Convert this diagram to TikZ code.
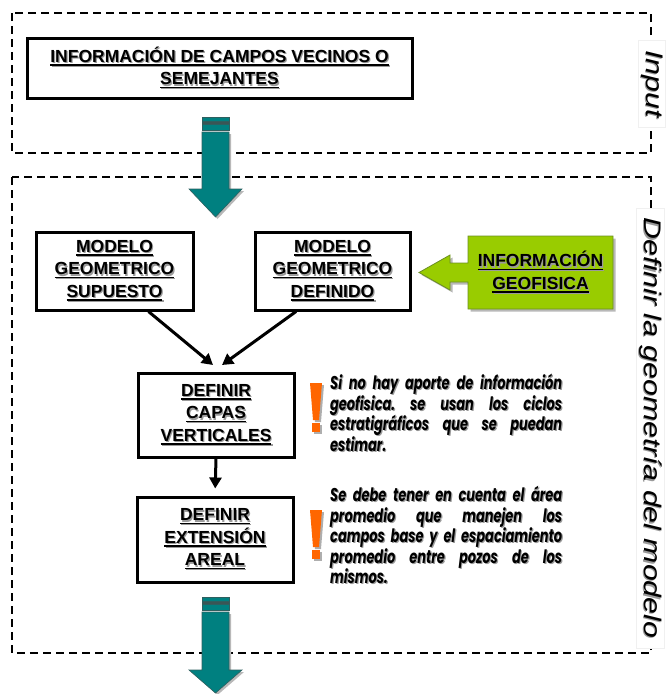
\documentclass[tikz,border=0pt]{standalone}
\usepackage{fontspec}
\setmainfont{Liberation Sans}
\newfontfamily\notefont[FakeStretch=0.70]{Poppins}
\usetikzlibrary{arrows.meta,calc}

\definecolor{tealfill}{HTML}{008080}
\definecolor{tealedge}{HTML}{2F5F5F}
\definecolor{tealband}{HTML}{3A5656}
\definecolor{leaf}{HTML}{99CC00}
\definecolor{leafedge}{HTML}{6B8E23}
\definecolor{alertorange}{HTML}{FF6600}
\definecolor{shadowgray}{HTML}{9A9A9A}

% text with a soft grey drop shadow
\newcommand\shd[1]{\leavevmode\rlap{\hspace{1.2pt}\raisebox{-1.2pt}{\color{shadowgray}#1}}#1}
% heavy underline
\newcommand\ulx[1]{\setbox0\hbox{#1}\rlap{\rule[-3.2pt]{\wd0}{1.5pt}}\box0}
% underlined, shadowed box caption line
\newcommand\bx[1]{\shd{\ulx{#1}}}

% broad teal arrow: centre x, top, start of head, tip
\newcommand\fatarrow[4]{%
  \fill[shadowgray!70] ({#1-11.5},{#2+17}) -- ({#1+15.5},{#2+17}) -- ({#1+15.5},{#3+2}) -- ({#1+28.5},{#3+2})
     -- ({#1+2},{#4+2}) -- ({#1-24.5},{#3+2}) -- ({#1-11.5},{#3+2}) -- cycle;
  \filldraw[fill=tealfill, draw=tealedge, line width=0.6pt]
     ({#1-13.5},{#2}) rectangle ({#1+13.5},{#2+4});
  \filldraw[fill=tealband, draw=tealedge, line width=0.6pt]
     ({#1-13.5},{#2+4}) rectangle ({#1+13.5},{#2+7});
  \filldraw[fill=tealfill, draw=tealedge, line width=0.6pt]
     ({#1-13.5},{#2+7}) rectangle ({#1+13.5},{#2+13});
  \filldraw[fill=tealfill, draw=tealedge, line width=0.6pt]
     ({#1-13.5},{#2+15}) -- ({#1+13.5},{#2+15}) -- ({#1+13.5},{#3}) -- ({#1+26.5},{#3})
     -- ({#1},{#4}) -- ({#1-26.5},{#3}) -- ({#1-13.5},{#3}) -- cycle;
}

\tikzset{
  warnmark/.pic={
    \fill[shadowgray!80] (2,2) -- (14,2) -- (11,39) -- (5,39) -- cycle;
    \fill[shadowgray!80] (4,42) rectangle (12,51);
    \fill[alertorange] (0,0) -- (12,0) -- (9,37) -- (3,37) -- cycle;
    \fill[alertorange] (2,40) rectangle (10,49);
  }
}

\begin{document}
\begin{tikzpicture}[x=1pt, y=-1pt,
  stage/.style={draw=black, line width=2.2pt, dash pattern=on 8pt off 5pt},
  taskbox/.style={draw=black, line width=3pt, inner sep=0pt, align=center,
    font=\fontsize{17.5}{22.5}\selectfont\bfseries},
  flow/.style={line width=3pt, -{Triangle[length=11pt,width=12pt]}},
  sidelabel/.style={rotate=-90, fill=white, draw=gray!12, inner xsep=10pt, inner ysep=2pt,
    font=\fontsize{24}{26}\selectfont\itshape},
  note/.style={text width=232pt, align=justify, inner sep=0pt, anchor=north west,
    font=\notefont\fontsize{18.5}{20.5}\selectfont\bfseries\itshape\frenchspacing}
]
\useasboundingbox (0,0) rectangle (670,694);

% stage frames
\draw[stage] (12,13) rectangle (651,153);
\draw[stage] (12,177) rectangle (651,653);

% stage names on the right edge
\node[sidelabel] (inlbl) at (652,84) {\shd{\scalebox{1.26}[1]{Input}}};
\node[sidelabel] (geolbl) at (650,428) {\shd{\scalebox{1.26}[1]{Definir la geometría del modelo}}};

% broad arrows between stages
\fatarrow{215.5}{117}{189}{217}
\fatarrow{215.5}{597}{670}{693}

% process boxes
\node[taskbox, minimum width=385pt, minimum height=60pt] (vecinos) at (219.5,68)
  {\bx{INFORMACIÓN DE CAMPOS VECINOS O}\\\bx{SEMEJANTES}};
\node[taskbox, minimum width=157pt, minimum height=78pt] (supuesto) at (114.5,271)
  {\bx{MODELO}\\\bx{GEOMETRICO}\\\bx{SUPUESTO}};
\node[taskbox, minimum width=155pt, minimum height=78pt] (definido) at (332.5,271)
  {\bx{MODELO}\\\bx{GEOMETRICO}\\\bx{DEFINIDO}};
\node[taskbox, minimum width=156pt, minimum height=84pt] (capas) at (216,415)
  {\bx{DEFINIR}\\\bx{CAPAS}\\\bx{VERTICALES}};
\node[taskbox, minimum width=156pt, minimum height=85pt] (areal) at (215,539.5)
  {\bx{DEFINIR}\\\bx{EXTENSIÓN}\\\bx{AREAL}};

% geophysics input callout
\fill[shadowgray!70] (470.5,238.5) -- (615.5,238.5) -- (615.5,311.5) -- (470.5,311.5) -- (470.5,284.5)
  -- (452.5,284.5) -- (452.5,292.5) -- (421.5,275) -- (452.5,257.5) -- (452.5,265.5) -- (470.5,265.5) -- cycle;
\draw[fill=leaf, draw=leafedge, line width=0.8pt] (468,236) -- (613,236) -- (613,309) -- (468,309) -- (468,282)
  -- (450,282) -- (450,290) -- (419,272.5) -- (450,255) -- (450,263) -- (468,263) -- cycle;
\node[inner sep=0pt, align=center, font=\fontsize{17.5}{22.5}\selectfont\bfseries] (geofisica) at (540.5,272.5)
  {\bx{INFORMACIÓN}\\\bx{GEOFISICA}};

% flow connectors
\coordinate (joinL) at (213,365);
\coordinate (joinR) at (222,365);
\draw[flow] (supuesto.-50) -- (joinL);
\draw[flow] (definido.-132) -- (joinR);
\draw[flow, shorten >=7pt] (capas.south) -- (areal.north);

% warnings
\pic at (310,383) {warnmark};
\pic at (310,510) {warnmark};

\node[note, text=shadowgray] (noteAshade) at (331.2,375.2)
  {Si no hay aporte de información\linebreak geofisica. se usan los ciclos\linebreak estratigráficos que se puedan\linebreak estimar.};
\node[note] (noteA) at (330,374)
  {Si no hay aporte de información\linebreak geofisica. se usan los ciclos\linebreak estratigráficos que se puedan\linebreak estimar.};

\node[note, text=shadowgray] (noteBshade) at (331.2,487.2)
  {Se debe tener en cuenta el área\linebreak promedio que manejen los\linebreak campos base y el espaciamiento\linebreak promedio entre pozos de los\linebreak mismos.};
\node[note] (noteB) at (330,486)
  {Se debe tener en cuenta el área\linebreak promedio que manejen los\linebreak campos base y el espaciamiento\linebreak promedio entre pozos de los\linebreak mismos.};
\end{tikzpicture}
\end{document}
